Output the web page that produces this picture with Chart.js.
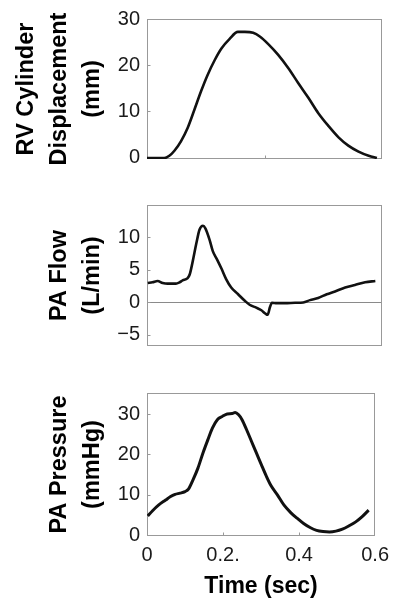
<!DOCTYPE html>
<html>
<head>
<meta charset="utf-8">
<script src="https://cdn.jsdelivr.net/npm/chart.js@4.4.1/dist/chart.umd.min.js"></script>
<style>
  html, body { margin: 0; padding: 0; background: #fff; overflow: hidden; }
  .panel { position: absolute; left: 0; width: 396px; }
</style>
</head>
<body>
<div class="panel" style="top:0px;height:180px"><canvas id="dispChart"></canvas></div>
<div class="panel" style="top:185px;height:180px"><canvas id="flowChart"></canvas></div>
<div class="panel" style="top:373px;height:225px"><canvas id="pressChart"></canvas></div>
<script>
const LINE_COLOR = "#111111";
const BOX_COLOR = "#999999";
const TEXT_COLOR = "#1a1a1a";
const FONT_FAMILY = "'Liberation Sans', Arial, sans-serif";

// RV cylinder displacement (mm) vs time (s)
const dispTime = [0, 0.044, 0.057, 0.070, 0.087, 0.104, 0.121, 0.138, 0.155, 0.173, 0.190, 0.211, 0.232, 0.250,
    0.271, 0.288, 0.309, 0.335, 0.361, 0.386, 0.412, 0.437, 0.463, 0.489, 0.514, 0.540, 0.566, 0.587];
const dispValues = [-0.2, -0.2, 0.3, 1.4, 3.5, 6.4, 10.3, 14.3, 17.9, 21.1, 23.6, 25.7, 27.2, 27.2,
    27.0, 26.2, 24.6, 22.2, 19.3, 16.1, 12.9, 9.6, 6.8, 4.3, 2.5, 1.2, 0.3, -0.2];

// PA flow (L/min) vs time (s)
const flowTime = [0.002, 0.014, 0.027, 0.040, 0.053, 0.074, 0.083, 0.091, 0.103, 0.109, 0.117, 0.126, 0.134, 0.143,
    0.149, 0.160, 0.168, 0.179, 0.191, 0.202, 0.215, 0.232, 0.249, 0.262, 0.279, 0.292, 0.302, 0.308, 0.314,
    0.319, 0.331, 0.352, 0.378, 0.399, 0.416, 0.437, 0.459, 0.480, 0.506, 0.531, 0.557, 0.583];
const flowValues = [3.0, 3.1, 3.3, 3.0, 2.9, 2.9, 3.1, 3.4, 3.7, 4.3, 6.4, 9.1, 11.2, 11.8,
    11.4, 9.6, 7.9, 6.6, 5.1, 3.6, 2.3, 1.3, 0.3, -0.35, -0.8, -1.2, -1.7, -1.9, -0.7,
    -0.05, -0.1, -0.1, -0.05, 0, 0.36, 0.7, 1.26, 1.7, 2.3, 2.7, 3.1, 3.3];

// PA pressure (mmHg) vs time (s)
const pressTime = [0.002, 0.014, 0.031, 0.049, 0.061, 0.074, 0.087, 0.100, 0.109, 0.121, 0.134, 0.147, 0.160, 0.172,
    0.185, 0.198, 0.211, 0.224, 0.232, 0.241, 0.250, 0.262, 0.275, 0.288, 0.301, 0.313, 0.326, 0.343, 0.360,
    0.378, 0.395, 0.412, 0.429, 0.446, 0.463, 0.480, 0.497, 0.514, 0.531, 0.549, 0.566, 0.583];
const pressValues = [4.75, 6.0, 7.5, 8.7, 9.5, 10.1, 10.4, 10.8, 11.4, 13.7, 16.6, 20.3, 23.6, 26.5,
    28.6, 29.4, 30.0, 30.1, 30.4, 29.8, 28.6, 26.1, 23.2, 20.3, 17.4, 14.8, 12.3, 10.0, 7.5,
    5.6, 4.2, 2.9, 1.9, 1.2, 0.9, 0.8, 1.0, 1.5, 2.3, 3.3, 4.6, 6.2];

// tick values and labels
const dispTicks = [0, 10, 20, 30];
const flowTicks = [-5, 0, 5, 10];
const pressTicks = [0, 10, 20, 30];
const timeTicks = [0, 0.2, 0.4, 0.6];
const timeTickLabels = ["0", "0.2.", "0.4", "0.6"];

//draws the grey frame around the plot area and the short inward tick marks
const frameBox = {
    id: 'frameBox',
    beforeDatasetsDraw(chart, args, opts) {
        const { ctx, chartArea: { top, bottom, left, right }, scales: { x, y } } = chart;
        const l = Math.round(left) + 0.5, t = Math.round(top) + 0.5;
        const r = Math.round(right) - 0.5, b = Math.round(bottom) - 0.5;
        ctx.save();
        ctx.strokeStyle = BOX_COLOR;
        ctx.lineWidth = 1;
        ctx.strokeRect(l, t, r - l, b - t);
        ctx.beginPath();
        (opts.yTicks || []).forEach(v => {
            const py = Math.round(y.getPixelForValue(v)) + 0.5;
            ctx.moveTo(l, py);
            ctx.lineTo(l + 3, py);
        });
        (opts.xTicks || []).forEach(v => {
            const px = Math.round(x.getPixelForValue(v)) + 0.5;
            ctx.moveTo(px, b);
            ctx.lineTo(px, b - 3);
        });
        ctx.stroke();
        ctx.restore();
    }
};

function toPoints(times, values) {
    return times.map((t, i) => ({ x: t, y: values[i] }));
}

function minusLabel(value) {
    return value < 0 ? "\u2212" + Math.abs(value) : String(value);
}

//builds one panel; xLabels=true only for the bottom panel
function makePanel(canvasId, cfg) {
    const xScale = {
        type: 'linear',
        min: 0,
        max: 0.6,
        display: cfg.showX,
        grid: { display: false, drawTicks: false },
        border: { display: false },
        afterBuildTicks: scale => { scale.ticks = timeTicks.map(v => ({ value: v })); },
        afterFit: scale => { if (cfg.showX) scale.height = 62; },
        ticks: {
            padding: 7,
            autoSkip: false,
            maxRotation: 0,
            color: TEXT_COLOR,
            font: { family: FONT_FAMILY, size: 20 },
            callback: (value, index) => timeTickLabels[index]
        },
        title: {
            display: cfg.showX,
            text: "Time (sec)",
            color: "#000",
            padding: { top: 0, bottom: 0 },
            font: { family: FONT_FAMILY, size: 23, weight: 'bold', lineHeight: 0.96 }
        }
    };
    return new Chart(canvasId, {
        type: 'line',
        data: {
            datasets: [{
                data: toPoints(cfg.times, cfg.values),
                borderColor: LINE_COLOR,
                borderWidth: cfg.lineWidth,
                pointRadius: 0,
                cubicInterpolationMode: 'monotone',
                fill: false
            }]
        },
        options: {
            responsive: true,
            maintainAspectRatio: false,
            animation: false,
            layout: { padding: { left: 0, right: 14, top: cfg.padTop, bottom: cfg.padBottom } },
            scales: {
                x: xScale,
                y: {
                    type: 'linear',
                    min: cfg.yMin,
                    max: cfg.yMax,
                    afterBuildTicks: scale => { scale.ticks = cfg.yTicks.map(v => ({ value: v })); },
                    afterFit: scale => { scale.width = 147; },
                    border: { display: false },
                    grid: {
                        drawTicks: false,
                        lineWidth: 1,
                        color: c => (cfg.zeroLine && c.tick && c.tick.value === 0) ? "#8a8a8a" : "rgba(0,0,0,0)"
                    },
                    ticks: {
                        padding: 7,
                        color: TEXT_COLOR,
                        font: { family: FONT_FAMILY, size: 20 },
                        callback: value => minusLabel(value)
                    },
                    title: {
                        display: true,
                        text: cfg.yTitle,
                        color: "#000",
                        padding: { top: cfg.titlePad, bottom: 0 },
                        font: { family: FONT_FAMILY, size: 23.5, weight: 'bold', lineHeight: 1.404 }
                    }
                }
            },
            plugins: {
                legend: { display: false },
                tooltip: { enabled: false },
                frameBox: { yTicks: cfg.yTicks, xTicks: cfg.innerXTicks }
            }
        },
        plugins: [frameBox]
    });
}

makePanel("dispChart", {
    times: dispTime, values: dispValues, lineWidth: 2.6,
    yMin: -0.4, yMax: 30, yTicks: dispTicks, innerXTicks: [0.3],
    yTitle: ["RV Cylinder", "Displacement", "(mm)"], titlePad: 10.5,
    padTop: 17, padBottom: 21, showX: false, zeroLine: false
});

makePanel("flowChart", {
    times: flowTime, values: flowValues, lineWidth: 2.6,
    yMin: -6.7, yMax: 15, yTicks: flowTicks, innerXTicks: [],
    yTitle: ["PA Flow", "(L/min)"], titlePad: 43.5,
    padTop: 20, padBottom: 17, showX: false, zeroLine: true
});

makePanel("pressChart", {
    times: pressTime, values: pressValues, lineWidth: 3,
    yMin: -0.2, yMax: 35.2, yTicks: pressTicks, innerXTicks: [0.2, 0.4],
    yTitle: ["PA Pressure", "(mmHg)"], titlePad: 43.5,
    padTop: 20, padBottom: 0, showX: true, zeroLine: false
});
</script>
</body>
</html>
